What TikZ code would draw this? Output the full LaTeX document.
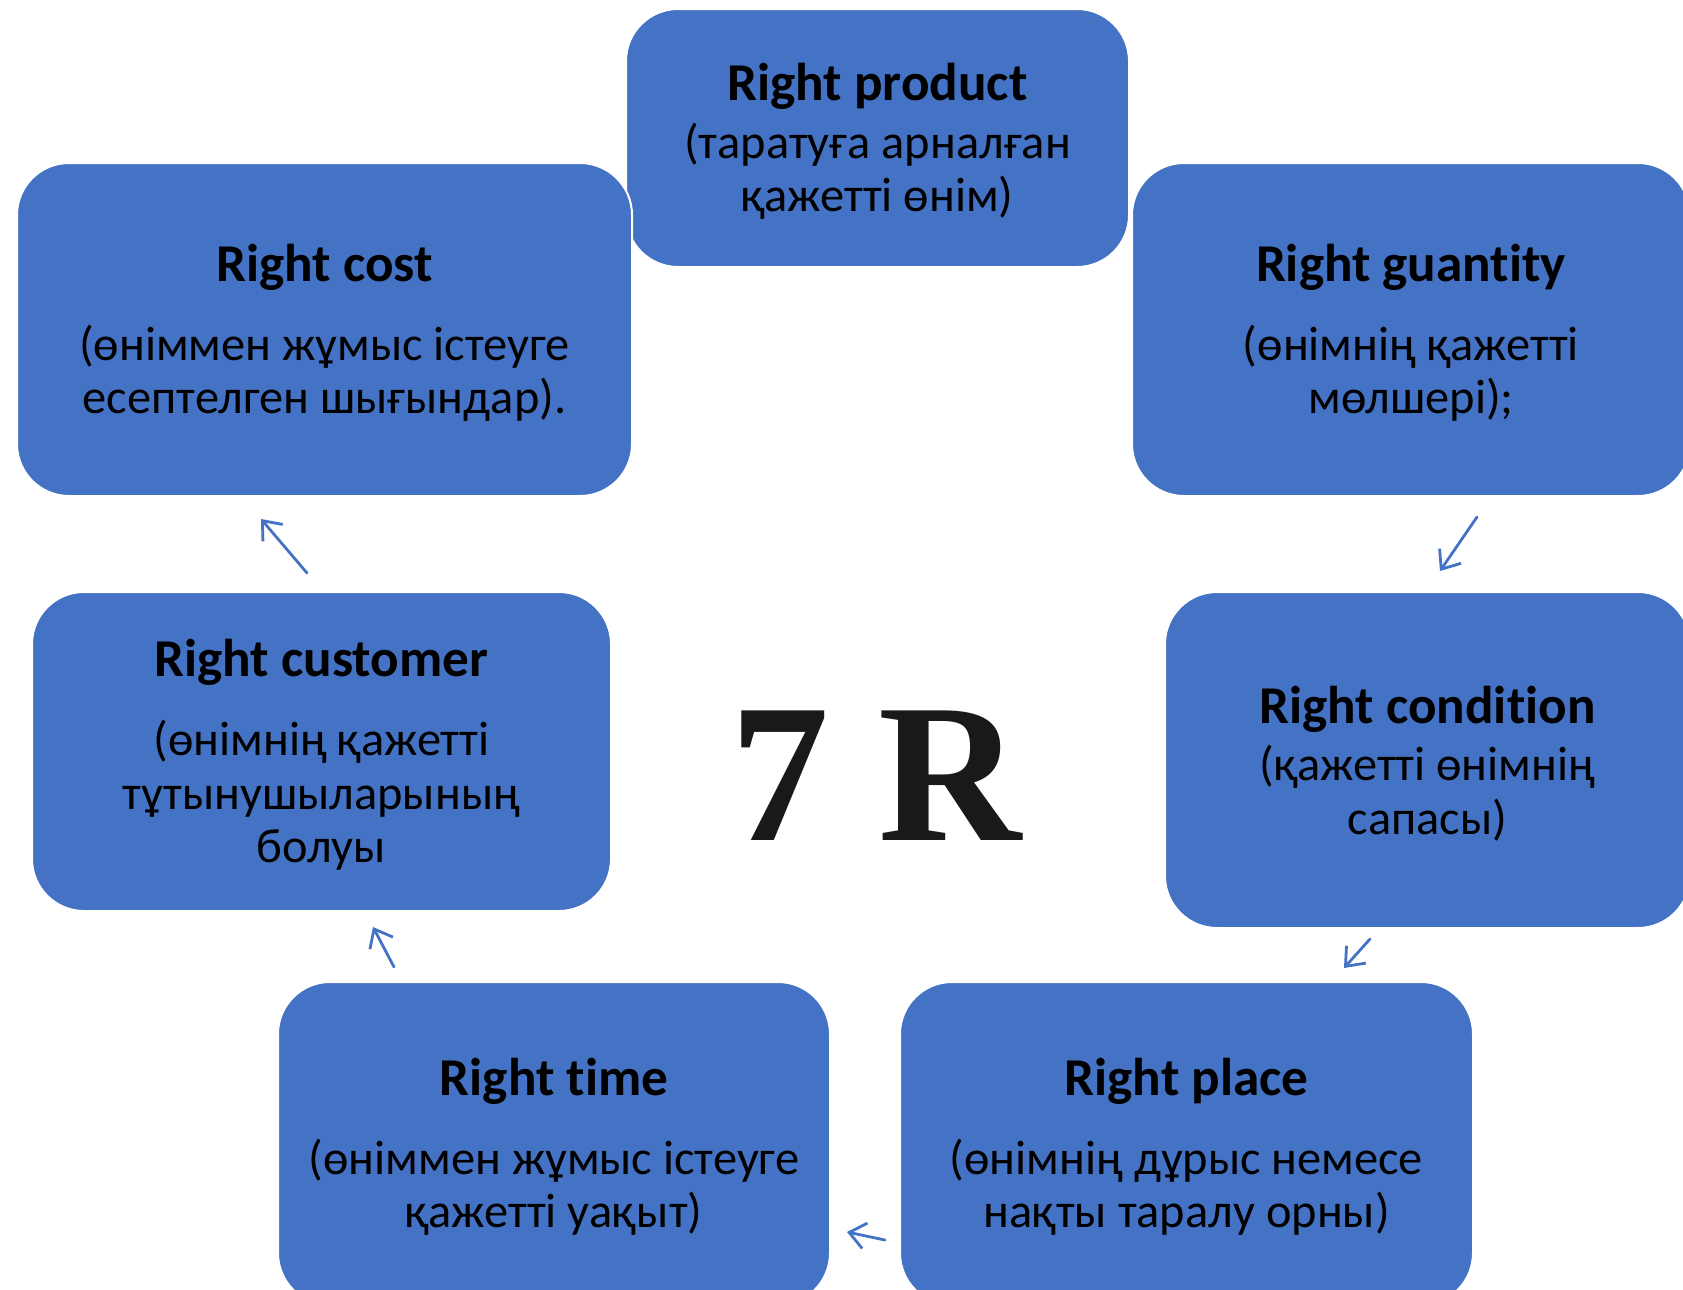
\documentclass[tikz,border=0pt]{standalone}
\usepackage{fontspec}
\setmainfont{Carlito}[RawFeature={-liga;-clig;-calt;-dlig}]
\newfontfamily\bigserif{Liberation Serif}
\usetikzlibrary{arrows.meta}
\definecolor{boxblue}{HTML}{4472C4}
\newcommand{\ttl}[1]{{\bfseries\fontsize{26.6}{26.75}\selectfont\rule{0pt}{22pt}#1}}
\tikzset{
  rbox/.style={draw=white, line width=1pt, fill=boxblue, rounded corners=26pt,
    align=center, inner sep=0pt, font=\fontsize{24.2}{26.75}\selectfont},
  arr/.style={draw=boxblue, line width=1.4pt, line cap=round,
    -{Straight Barb[length=8pt,width=13pt]}}
}
\begin{document}
\begin{tikzpicture}[x=0.5pt, y=-0.5pt]
    \useasboundingbox (0,0) rectangle (1683,1290);
    \clip (0,0) rectangle (1683,1290);
    \node[rbox, minimum width=251.5pt, minimum height=129pt] (product) at (877.5,138)
        {\ttl{Right product}\\[2pt](таратуға арналған\\қажетті өнім)};
    \node[rbox, minimum width=307.5pt, minimum height=166.5pt] (cost) at (324.5,329.5)
        {\ttl{Right cost}\\[12.75pt](өніммен жұмыс істеуге\\есептелген шығындар).};
    \node[rbox, minimum width=279pt, minimum height=166.5pt] (quantity) at (1411,329.5)
        {\ttl{Right guant\kern0pt ity}\\[12.75pt](өнімнің қажетті\\мөлшері);};
    \node[rbox, minimum width=289.5pt, minimum height=159.5pt] (customer) at (321.5,751.5)
        {\ttl{Right customer}\\[12.75pt](өнімнің қажетті\\тұтынушыларының\\болуы};
    \node[rbox, minimum width=262.5pt, minimum height=168pt] (condition) at (1427.5,760)
        {\ttl{Right condit\kern0pt ion}\\[2pt](қажетті өнімнің\\сапасы)};
    \node[rbox, minimum width=276pt, minimum height=161.5pt] (time) at (554,1143.5)
        {\ttl{Right t\kern0pt ime}\\[12.75pt](өніммен жұмыс істеуге\\қажетті уақыт)};
    \node[rbox, minimum width=286.5pt, minimum height=161.5pt] (place) at (1186.5,1143.5)
        {\ttl{Right place}\\[12.75pt](өнімнің дұрыс немесе\\нақты таралу орны)};
    \node[anchor=base, inner sep=0pt, text=black!90] (sevenR) at (876,840)
        {\bigserif\bfseries\fontsize{99}{99}\selectfont 7 R};
    \coordinate (quantity-out) at (1477,517);
    \coordinate (condition-in) at (1440,571);
    \coordinate (condition-out) at (1370,939);
    \coordinate (place-in) at (1344,968);
    \coordinate (place-out) at (885,1240);
    \coordinate (time-in) at (847,1232);
    \coordinate (time-out) at (394,967);
    \coordinate (customer-in) at (373,927);
    \coordinate (customer-out) at (307,573);
    \coordinate (cost-in) at (261,519);
    \draw[arr] (quantity-out) -- (condition-in);
    \draw[arr] (condition-out) -- (place-in);
    \draw[arr] (place-out) -- (time-in);
    \draw[arr] (time-out) -- (customer-in);
    \draw[arr] (customer-out) -- (cost-in);
\end{tikzpicture}
\end{document}
